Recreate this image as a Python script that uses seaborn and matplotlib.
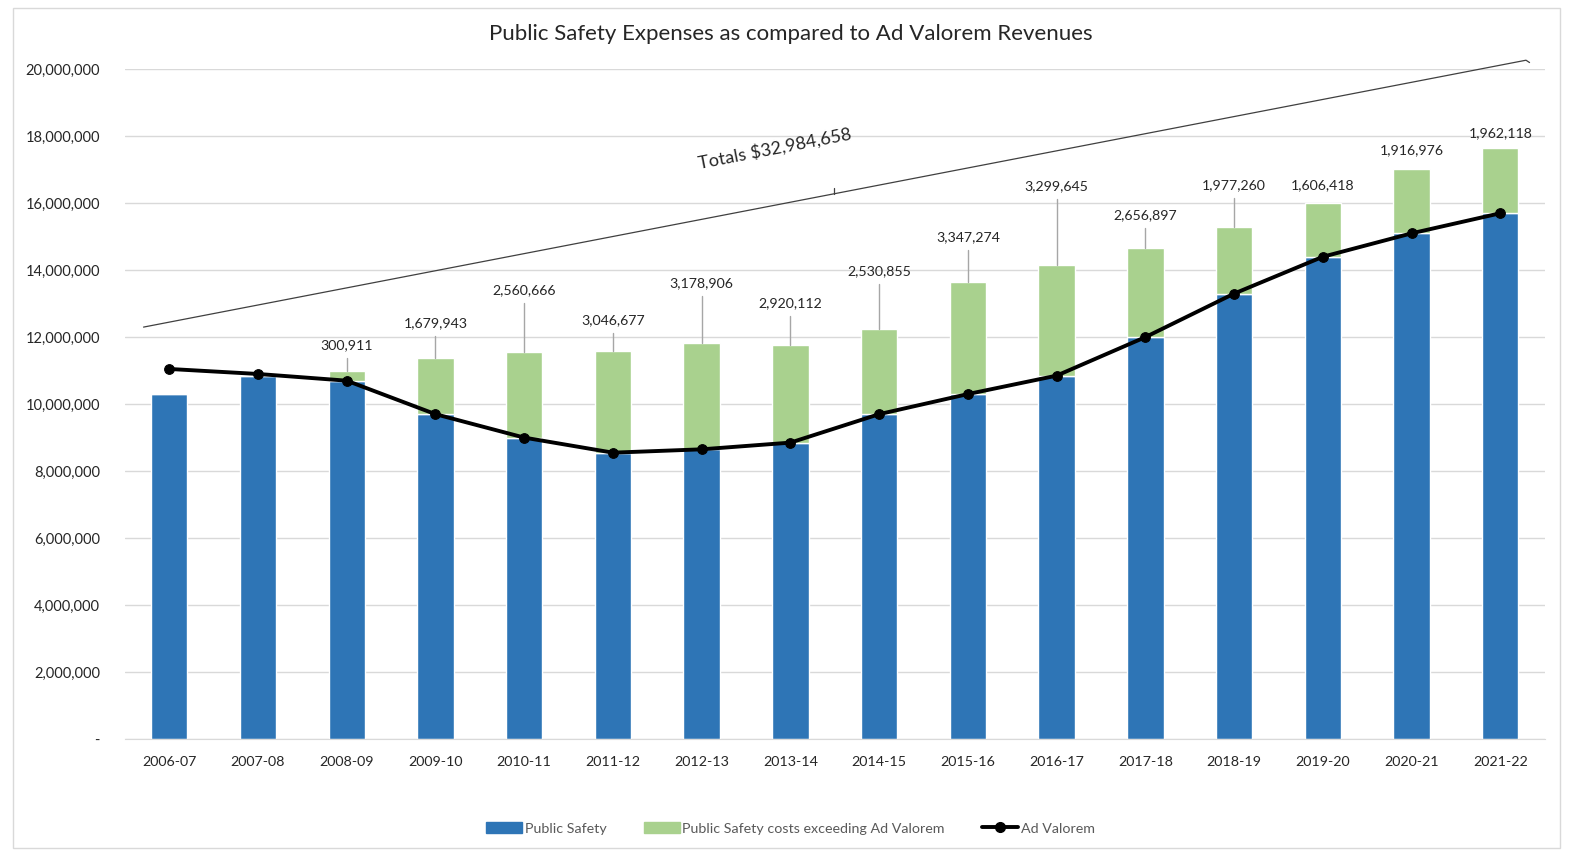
import numpy as np
import pandas as pd
import matplotlib
matplotlib.use("Agg")
import matplotlib.pyplot as plt
import matplotlib.patches as mpatches
import matplotlib.lines as mlines
import seaborn as sns

# chart data
years = ["2006-07", "2007-08", "2008-09", "2009-10", "2010-11", "2011-12", "2012-13", "2013-14",
         "2014-15", "2015-16", "2016-17", "2017-18", "2018-19", "2019-20", "2020-21", "2021-22"]
public_safety = [10300000, 10850000, 10700000, 9700000, 9000000, 8550000, 8650000, 8850000,
                 9700000, 10300000, 10850000, 12000000, 13300000, 14400000, 15100000, 15700000]
excess = [0, 0, 300911, 1679943, 2560666, 3046677, 3178906, 2920112,
          2530855, 3347274, 3299645, 2656897, 1977260, 1606418, 1916976, 1962118]
ad_valorem = [11050000, 10900000, 10700000, 9700000, 9000000, 8550000, 8650000, 8850000,
              9700000, 10300000, 10850000, 12000000, 13300000, 14400000, 15100000, 15700000]
y_ticks = [0, 2000000, 4000000, 6000000, 8000000, 10000000, 12000000, 14000000,
           16000000, 18000000, 20000000]

# layout: how far above each bar the label sits (the labels were dragged by hand)
label_lift = [0, 0, 760000, 1040000, 1840000, 900000, 1770000, 1230000,
              1740000, 1350000, 2350000, 980000, 1260000, 540000, 560000, 430000]

BLUE = "#2E75B6"
GREEN = "#A9D18E"
TEXT = "#262626"

df = pd.DataFrame({"year": years, "public_safety": public_safety,
                   "excess": excess, "ad_valorem": ad_valorem})
df["total"] = df["public_safety"] + df["excess"]
df["pos"] = np.arange(len(df))

sns.set_style("white")
plt.rcParams["font.family"] = ["Lato", "DejaVu Sans"]

fig = plt.figure(figsize=(15.81, 8.55), dpi=100)
ax = fig.add_axes([0.079, 0.1357, 0.898, 0.7833])

# stacked bars
sns.barplot(data=df, x="year", y="public_safety", color=BLUE, width=0.41,
            saturation=1, ax=ax, zorder=2)
sns.barplot(data=df, x="year", y="excess", color=GREEN, width=0.41,
            saturation=1, ax=ax, bottom=df["public_safety"], zorder=2)

# ad valorem line
sns.lineplot(data=df, x="pos", y="ad_valorem", color="black", linewidth=2.8,
             marker="o", markersize=7, markeredgecolor="black", ax=ax, zorder=4)

ax.set_xlim(-0.5, 15.5)
ax.set_ylim(0, 20000000)
ax.set_yticks(y_ticks)
ax.set_yticklabels(["-" if v == 0 else f"{v:,}" for v in y_ticks])
ax.set_xlabel("")
ax.set_ylabel("")
ax.grid(axis="y", color="#D9D9D9", linewidth=1, zorder=0)
ax.set_axisbelow(True)
for side in ["top", "right", "left"]:
    ax.spines[side].set_visible(False)
ax.spines["bottom"].set_color("#D9D9D9")
ax.tick_params(axis="x", length=0, labelsize=10.3, colors=TEXT, pad=12)
ax.tick_params(axis="y", length=0, labelsize=10.5, colors=TEXT, pad=18)

# excess labels with leader lines
for i, row in df.iterrows():
    if row["excess"] <= 0:
        continue
    top = row["total"]
    ly = top + label_lift[i]
    ax.text(row["pos"], ly, f"{int(row['excess']):,}", ha="center", va="center",
            fontsize=10.2, color=TEXT, zorder=5)
    if ly - top > 700000:
        ax.plot([row["pos"], row["pos"]], [top, ly - 380000], color="#A6A6A6",
                linewidth=1, zorder=3)

# totals callout line
ax.plot([-0.29, 15.29, 15.33], [12300000, 20270000, 20200000], color="#404040",
        linewidth=0.9, clip_on=False, zorder=3)
ax.plot([7.49, 7.49], [16280000, 16450000], color="#404040", linewidth=0.9, zorder=3)
ax.text(6.82, 17620000, f"Totals ${sum(excess):,}", rotation=11, ha="center",
        va="center", fontsize=13, color=TEXT)

fig.suptitle("Public Safety Expenses as compared to Ad Valorem Revenues",
             y=0.972, fontsize=16, color=TEXT)

handles = [mpatches.Patch(color=BLUE, label="Public Safety"),
           mpatches.Patch(color=GREEN, label="Public Safety costs exceeding Ad Valorem"),
           mlines.Line2D([], [], color="black", linewidth=2.8, marker="o",
                         markersize=7, label="Ad Valorem")]
fig.legend(handles=handles, loc="center", bbox_to_anchor=(0.5, 0.031), ncol=3,
           frameon=False, fontsize=10.3, labelcolor="#595959", handlelength=2.5,
           handleheight=0.7, columnspacing=2.6, handletextpad=0.2)

# thin frame around the whole chart
fig.patches.append(mpatches.Rectangle((0.008, 0.008), 0.979, 0.983, transform=fig.transFigure,
                                      fill=False, edgecolor="#D9D9D9", linewidth=1))

fig.savefig("out.png", dpi=100)
